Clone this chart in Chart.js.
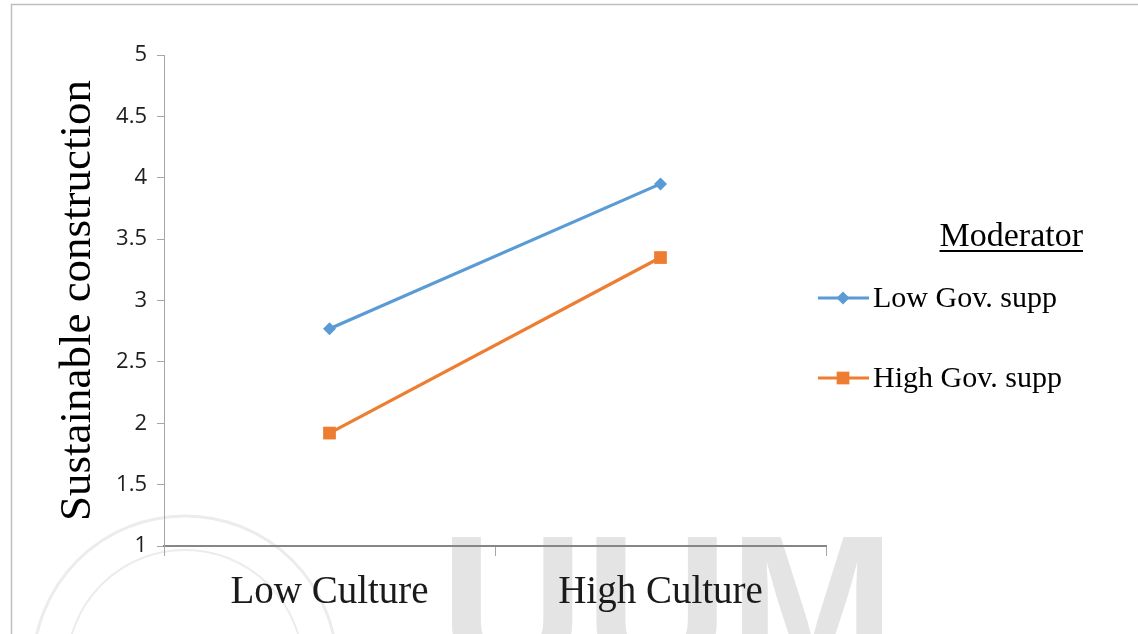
<!DOCTYPE html>
<html>
<head>
<meta charset="utf-8">
<script src="https://cdn.jsdelivr.net/npm/chart.js@4/dist/chart.umd.min.js"></script>
<style>
  html, body { margin: 0; padding: 0; background: #fff; }
  #wrap { width: 1138px; height: 634px; position: relative; }
</style>
</head>
<body>
<div id="wrap"><canvas id="lineChart"></canvas></div>
<script>
const categories = ["Low Culture", "High Culture"];
const lowGov = [2.77, 3.95];
const highGov = [1.92, 3.35];
const seriesNames = ["Low Gov. supp", "High Gov. supp"];
const yTicks = [1, 1.5, 2, 2.5, 3, 3.5, 4, 4.5, 5];
const legendTitle = "Moderator";
const yTitle = "Sustainable construction";

const serif = "'Liberation Serif', 'Times New Roman', serif";
Chart.defaults.font.family = serif;

/* background: page border + faint watermark */
const backdrop = {
    id: "backdrop",
    beforeDraw(chart) {
        const ctx = chart.ctx;
        ctx.save();
        // faint seal
        ctx.strokeStyle = "#ececec";
        ctx.lineWidth = 3;
        ctx.beginPath();
        ctx.arc(185, 668, 152, 0, Math.PI * 2);
        ctx.stroke();
        ctx.lineWidth = 2;
        ctx.beginPath();
        ctx.arc(185, 668, 118, 0, Math.PI * 2);
        ctx.stroke();
        // faint UUM letters
        ctx.fillStyle = "#e4e4e4";
        ctx.font = "bold 200px 'Liberation Sans', Arial, sans-serif";
        ctx.textBaseline = "alphabetic";
        ctx.fillText("UUM", 440, 675);
        // border
        ctx.strokeStyle = "#bfbfbf";
        ctx.lineWidth = 1.5;
        ctx.beginPath();
        ctx.moveTo(11.5, 634);
        ctx.lineTo(11.5, 4.5);
        ctx.lineTo(1138, 4.5);
        ctx.stroke();
        ctx.restore();
    }
};

/* y title + legend on the right with underlined heading */
const sideLegend = {
    id: "sideLegend",
    afterDraw(chart) {
        const ctx = chart.ctx;
        const area = chart.chartArea;
        ctx.save();
        ctx.fillStyle = "#000";
        ctx.textBaseline = "alphabetic";

        // y axis title, rotated
        ctx.save();
        ctx.translate(90, (area.top + area.bottom) / 2);
        ctx.rotate(-Math.PI / 2);
        ctx.textAlign = "center";
        ctx.font = "45px " + serif;
        ctx.fillText(yTitle, 0, 0);
        ctx.restore();

        ctx.font = "34px " + serif;
        ctx.textAlign = "right";
        ctx.fillText(legendTitle, 1083, 246);
        const w = ctx.measureText(legendTitle).width;
        ctx.fillRect(1083 - w, 250, w, 2);

        ctx.textAlign = "left";
        ctx.font = "30px " + serif;
        const rows = [298, 378];
        chart.data.datasets.forEach((ds, i) => {
            const y = rows[i];
            ctx.strokeStyle = ds.borderColor;
            ctx.lineWidth = 3;
            ctx.beginPath();
            ctx.moveTo(818, y);
            ctx.lineTo(869, y);
            ctx.stroke();
            ctx.fillStyle = ds.borderColor;
            Chart.helpers.drawPoint(ctx, {
                pointStyle: ds.pointStyle,
                rotation: 0,
                radius: ds.pointRadius,
                borderWidth: 0
            }, 843, y);
            ctx.fillStyle = "#000";
            ctx.fillText(ds.label, 873, y + 9);
        });
        ctx.restore();
    }
};

new Chart(document.getElementById("lineChart"), {
    type: "line",
    data: {
        labels: categories,
        datasets: [
            {
                label: seriesNames[0],
                data: lowGov,
                borderColor: "#5B9BD5",
                backgroundColor: "#5B9BD5",
                borderWidth: 3.2,
                pointStyle: "rectRot",
                pointRadius: 6.5,
                pointBorderWidth: 0,
                tension: 0
            },
            {
                label: seriesNames[1],
                data: highGov,
                borderColor: "#ED7D31",
                backgroundColor: "#ED7D31",
                borderWidth: 3.2,
                pointStyle: "rect",
                pointRadius: 9,
                pointBorderWidth: 0,
                tension: 0
            }
        ]
    },
    options: {
        responsive: true,
        maintainAspectRatio: false,
        animation: false,
        layout: { padding: { left: 0, top: 55, right: 312, bottom: 0 } },
        plugins: {
            legend: { display: false },
            tooltip: { enabled: false }
        },
        scales: {
            x: {
                offset: true,
                grid: {
                    offset: true,
                    drawOnChartArea: false,
                    tickLength: 10,
                    color: "#a6a6a6"
                },
                border: { color: "#868686", width: 2 },
                ticks: {
                    color: "#1a1a1a",
                    padding: 13,
                    font: { family: serif, size: 39 }
                },
                afterFit(scale) { scale.height = 88; }
            },
            y: {
                min: 1,
                max: 5,
                afterBuildTicks(scale) {
                    scale.ticks = yTicks.map(v => ({ value: v }));
                },
                grid: {
                    drawOnChartArea: false,
                    tickLength: 7,
                    color: "#a6a6a6"
                },
                border: { color: "#a6a6a6", width: 1 },
                ticks: {
                    color: "#202020",
                    padding: 10,
                    font: { family: "'Open Sans', sans-serif", size: 22 },
                    callback: v => String(v)
                },
                afterFit(scale) { scale.width = 164; }
            }
        }
    },
    plugins: [backdrop, sideLegend]
});
</script>
</body>
</html>
